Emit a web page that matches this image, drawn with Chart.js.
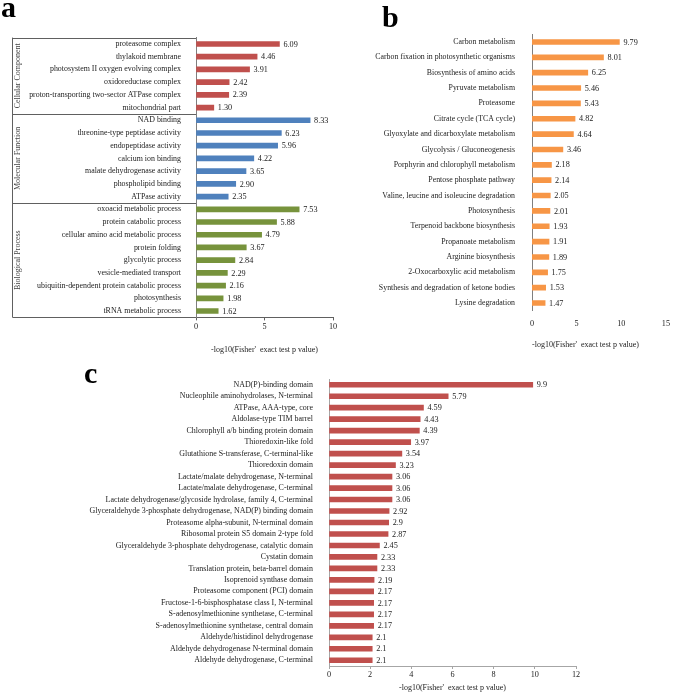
<!DOCTYPE html>
<html><head><meta charset="utf-8">
<script src="https://cdn.jsdelivr.net/npm/chart.js@4/dist/chart.umd.min.js"></script>
<style>
html,body{margin:0;padding:0;background:#fff;}
#wrap{position:relative;width:675px;height:693px;overflow:hidden;background:#fff;}
canvas{position:absolute;}
.lbl{position:absolute;font-family:"Liberation Serif","Times New Roman",serif;font-weight:bold;font-size:30px;line-height:30px;color:#000;}
</style></head><body>
<div id="wrap">
<canvas id="ca" width="345" height="360" style="left:0px;top:0px"></canvas>
<canvas id="cb" width="335" height="360" style="left:340px;top:0px"></canvas>
<canvas id="cc" width="675" height="333" style="left:0px;top:360px"></canvas>
<div class="lbl" style="left:1px;top:-8px">a</div>
<div class="lbl" style="left:382px;top:2px">b</div>
<div class="lbl" style="left:84px;top:358px">c</div>
</div>
<script>
// ---------- Panel a data ----------
const ccLabels = ["proteasome complex","thylakoid membrane","photosystem II oxygen evolving complex","oxidoreductase complex","proton-transporting two-sector ATPase complex","mitochondrial part"];
const ccValues = [6.09,4.46,3.91,2.42,2.39,1.30];
const mfLabels = ["NAD binding","threonine-type peptidase activity","endopeptidase activity","calcium ion binding","malate dehydrogenase activity","phospholipid binding","ATPase activity"];
const mfValues = [8.33,6.23,5.96,4.22,3.65,2.90,2.35];
const bpLabels = ["oxoacid metabolic process","protein catabolic process","cellular amino acid metabolic process","protein folding","glycolytic process","vesicle-mediated transport","ubiquitin-dependent protein catabolic process","photosynthesis","tRNA metabolic process"];
const bpValues = [7.53,5.88,4.79,3.67,2.84,2.29,2.16,1.98,1.62];
const groupNames = ["Cellular Component","Molecular Function","Biological Process"];
const aTicks = [0,5,10];

// ---------- Panel b data ----------
const keggLabels = ["Carbon metabolism","Carbon fixation in photosynthetic organisms","Biosynthesis of amino acids","Pyruvate metabolism","Proteasome","Citrate cycle (TCA cycle)","Glyoxylate and dicarboxylate metabolism","Glycolysis / Gluconeogenesis","Porphyrin and chlorophyll metabolism","Pentose phosphate pathway","Valine, leucine and isoleucine degradation","Photosynthesis","Terpenoid backbone biosynthesis","Propanoate metabolism","Arginine biosynthesis","2-Oxocarboxylic acid metabolism","Synthesis and degradation of ketone bodies","Lysine degradation"];
const keggValues = [9.79,8.01,6.25,5.46,5.43,4.82,4.64,3.46,2.18,2.14,2.05,2.01,1.93,1.91,1.89,1.75,1.53,1.47];
const bTicks = [0,5,10,15];

// ---------- Panel c data ----------
const domLabels = ["NAD(P)-binding domain","Nucleophile aminohydrolases, N-terminal","ATPase, AAA-type, core","Aldolase-type TIM barrel","Chlorophyll a/b binding protein domain","Thioredoxin-like fold","Glutathione S-transferase, C-terminal-like","Thioredoxin domain","Lactate/malate dehydrogenase, N-terminal","Lactate/malate dehydrogenase, C-terminal","Lactate dehydrogenase/glycoside hydrolase, family 4, C-terminal","Glyceraldehyde 3-phosphate dehydrogenase, NAD(P) binding domain","Proteasome alpha-subunit, N-terminal domain","Ribosomal protein S5 domain 2-type fold","Glyceraldehyde 3-phosphate dehydrogenase, catalytic domain","Cystatin domain","Translation protein, beta-barrel domain","Isoprenoid synthase domain","Proteasome component (PCI) domain","Fructose-1-6-bisphosphatase class I, N-terminal","S-adenosylmethionine synthetase, C-terminal","S-adenosylmethionine synthetase, central domain","Aldehyde/histidinol dehydrogenase","Aldehyde dehydrogenase N-terminal domain","Aldehyde dehydrogenase, C-terminal"];
const domValues = [9.9,5.79,4.59,4.43,4.39,3.97,3.54,3.23,3.06,3.06,3.06,2.92,2.9,2.87,2.45,2.33,2.33,2.19,2.17,2.17,2.17,2.17,2.1,2.1,2.1];
const cTicks = [0,2,4,6,8,10,12];

const axisTitle = "-log10(Fisher'  exact test p value)";
const SERIF = '"Liberation Serif","Times New Roman",serif';

Chart.defaults.font.family = SERIF;
Chart.defaults.color = '#222';

const valueLabels = {
  id: 'valueLabels',
  afterDatasetsDraw(chart, args, opts) {
    const ctx = chart.ctx;
    const meta = chart.getDatasetMeta(0);
    const data = chart.data.datasets[0].data;
    ctx.save();
    ctx.font = opts.size + 'px ' + SERIF;
    ctx.fillStyle = '#222';
    ctx.textAlign = 'left';
    ctx.textBaseline = 'middle';
    meta.data.forEach((bar, i) => {
      ctx.fillText(opts.fixed ? data[i].toFixed(2) : String(data[i]), bar.x + opts.gap, bar.y + 0.5);
    });
    ctx.restore();
  }
};

const groupBrackets = {
  id: 'groupBrackets',
  afterDraw(chart, args, opts) {
    const {ctx, chartArea, scales} = chart;
    const y = scales.y;
    const {left, top, bottom} = chartArea;
    const x0 = 12.5;
    ctx.save();
    ctx.strokeStyle = '#606060';
    ctx.lineWidth = 1;
    ctx.beginPath();
    ctx.moveTo(x0, top); ctx.lineTo(x0, bottom);
    ctx.moveTo(x0, Math.round(top) + 0.5); ctx.lineTo(left, Math.round(top) + 0.5);
    ctx.moveTo(x0, Math.round(bottom) + 0.5); ctx.lineTo(left, Math.round(bottom) + 0.5);
    let idx = 0;
    const spans = [];
    opts.counts.forEach((n, k) => {
      const s = idx, e = idx + n - 1;
      const yTop = s === 0 ? top : (y.getPixelForValue(s - 1) + y.getPixelForValue(s)) / 2;
      const yBot = e === opts.total - 1 ? bottom : (y.getPixelForValue(e) + y.getPixelForValue(e + 1)) / 2;
      spans.push([yTop, yBot]);
      if (k > 0) { const yy = Math.round(yTop) + 0.5; ctx.moveTo(x0, yy); ctx.lineTo(left, yy); }
      idx += n;
    });
    ctx.stroke();
    ctx.font = '8px ' + SERIF;
    ctx.fillStyle = '#444';
    ctx.textAlign = 'center';
    ctx.textBaseline = 'middle';
    spans.forEach((sp, k) => {
      ctx.save();
      ctx.translate(18, (sp[0] + sp[1]) / 2);
      ctx.rotate(-Math.PI / 2);
      ctx.fillText(opts.names[k], 0, 0);
      ctx.restore();
    });
    ctx.restore();
  }
};

function makeChart(id, cfg) {
  return new Chart(document.getElementById(id), {
    type: 'bar',
    data: {
      labels: cfg.labels,
      datasets: [{ data: cfg.values, backgroundColor: cfg.colors, barThickness: 5, borderWidth: 0 }]
    },
    plugins: [valueLabels].concat(cfg.extraPlugins || []),
    options: {
      indexAxis: 'y',
      responsive: false,
      animation: false,
      events: [],
      layout: { padding: cfg.padding },
      plugins: {
        legend: { display: false },
        tooltip: { enabled: false },
        valueLabels: { size: 8.2, gap: 4, fixed: cfg.fixed },
        groupBrackets: cfg.brackets || {}
      },
      scales: {
        x: {
          min: cfg.ticks[0], max: cfg.ticks[cfg.ticks.length - 1],
          afterBuildTicks: s => { s.ticks = cfg.ticks.map(v => ({ value: v })); },
          afterFit: s => { s.height = cfg.xHeight; },
          grid: { display: cfg.xTickMarks, drawOnChartArea: false, drawTicks: true, tickLength: 3, color: cfg.xAxisColor },
          border: { display: cfg.xBorder, color: cfg.xAxisColor },
          ticks: { font: { size: 8.2 }, color: '#222', padding: cfg.xTickPad, maxRotation: 0 },
          title: { display: true, text: axisTitle, align: cfg.titleAlign || 'center', font: { size: 8, lineHeight: 1.2 }, color: '#222', padding: { top: 0, bottom: cfg.titlePad } }
        },
        y: {
          afterFit: s => { s.width = cfg.yWidth; },
          grid: { display: false },
          border: { display: true, color: cfg.yAxisColor },
          ticks: { autoSkip: false, font: { size: cfg.ySize }, color: '#222', padding: cfg.yPad }
        }
      }
    }
  });
}

// Panel a
const aLabels = ccLabels.concat(mfLabels, bpLabels);
const aValues = ccValues.concat(mfValues, bpValues);
const aColors = ccValues.map(() => '#C0504D').concat(mfValues.map(() => '#4F81BD'), bpValues.map(() => '#77933C'));
makeChart('ca', {
  labels: aLabels, values: aValues, colors: aColors, ticks: aTicks, fixed: true, ySize: 7.9,
  padding: { left: 0, right: 12, top: 37.6, bottom: 0 },
  yWidth: 196, xHeight: 42.6, yPad: 7, xTickPad: 2, titlePad: 5.6,
  yAxisColor: '#7f7f7f', xAxisColor: '#606060', xBorder: true, xTickMarks: true,
  extraPlugins: [groupBrackets],
  brackets: { counts: [ccLabels.length, mfLabels.length, bpLabels.length], total: aLabels.length, names: groupNames }
});

// Panel b
makeChart('cb', {
  labels: keggLabels, values: keggValues, colors: keggValues.map(() => '#F79646'), ticks: bTicks, fixed: true, ySize: 7.85,
  padding: { left: 0, right: 5, top: 34.3, bottom: 0 },
  yWidth: 192, xHeight: 49.3, yPad: 9, xTickPad: 5, titlePad: 10.6, titleAlign: 'start',
  yAxisColor: '#7f7f7f', xAxisColor: '#bfbfbf', xBorder: false, xTickMarks: false
});

// Panel c
makeChart('cc', {
  labels: domLabels, values: domValues, colors: domValues.map(() => '#C0504D'), ticks: cTicks, fixed: false, ySize: 7.95,
  padding: { left: 0, right: 99, top: 19, bottom: 0 },
  yWidth: 329, xHeight: 27, yPad: 8, xTickPad: 1, titlePad: 0.6,
  yAxisColor: '#a6a6a6', xAxisColor: '#a6a6a6', xBorder: true, xTickMarks: true
});
</script>
</body></html>
